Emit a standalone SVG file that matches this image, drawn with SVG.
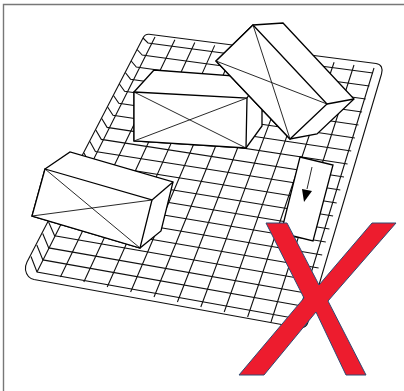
<svg xmlns="http://www.w3.org/2000/svg" width="404" height="391" viewBox="0 0 404 391">
<style>
.g{fill:none;stroke:#111;stroke-width:1.1}
.e{fill:#fff;stroke:#000;stroke-width:1.3;stroke-linejoin:miter}
.d{fill:none;stroke:#111;stroke-width:.9}
</style>
<rect width="404" height="391" fill="#fff"/>
<path d="M3.5 391V4.5H404" fill="none" stroke="#777" stroke-width="1.4"/>
<g id="plate">
<path class="g" d="M149 34.3L376 63.5Q384 65 381.5 74L308 322Q306 329 298 327.5L34 279.5Q27 278 25.500 270Q25 266 27 262L143 38Q145 34 149 34.3Z"/>
<path class="g" d="M143 38L148 43L373 73M137.100 49.500L142.200 55L369.400 86M131.200 61L136.300 67.100L365.700 99M125.300 72.500L130.500 79.200L362.100 112M119.400 84L124.600 91.200L358.500 125M113.500 95.500L118.800 103.300L354.900 138M107.600 107L113 115.300L351.200 151M101.700 118.500L107.100 127.400L347.600 164M95.800 130L101.300 139.400L344 177M89.900 141.500L95.400 151.500L340.300 190M84 153L89.600 163.500L336.700 203M78.100 164.500L83.800 175.600L333.100 216M72.200 176L77.900 187.600L329.400 229M66.300 187.500L72.100 199.700L325.800 242M60.400 199L66.200 211.700L322.200 255M54.500 210.500L60.400 223.800L318.600 268M48.600 222L54.600 235.800L314.900 281M42.700 233.500L48.700 247.900L311.300 294M36.800 245L42.900 259.900L307.600 307M31 256.500L37 272L304 320"/>
<path class="g" d="M155 37L37 272M174.900 39.800L60.400 277M194.800 42.600L83.800 282M214.700 45.400L107.200 287M234.600 48.200L130.600 292M254.500 51L154 297M274.400 53.800L177.400 302M294.300 56.600L200.800 307M314.200 59.400L224.200 312M334.100 62.200L247.600 317M354 65L271 322M374 68L294.500 327"/>
</g>
<g id="box-center">
<path class="e" d="M134 92L154 70L262 78V126L246 148L134 141Z"/>
<path class="e" d="M134 92L247 98L246 148L134 141Z"/>
<path class="e" d="M247 98L262 76"/>
<path class="d" d="M134 92L246 148M134 141L247 98"/>
</g>
<g id="box-right">
<path class="e" d="M253 25L283 23L354 99L317 134L290 139L216 61Z"/>
<path class="e" d="M253 25L327 104L290 139L216 61Z"/>
<path class="e" d="M327 104L354 99"/>
<path class="d" d="M253 25L290 139M216 61L327 104"/>
</g>
<g id="box-left">
<path class="e" d="M45 169L70 152L173 182L161 231L140 248L32 216Z"/>
<path class="e" d="M45 169L152 200L140 248L32 216Z"/>
<path class="e" d="M152 200L173 182"/>
<path class="d" d="M45 169L140 248M32 216L152 200"/>
</g>
<g id="card">
<path class="e" d="M300 157L333 165L313 241L281 233Z"/>
<path class="d" d="M312 167L307 189" stroke-width="1.100"/>
<path d="M302 189L312 191L304 202Z" fill="#000"/>
</g>
<g id="cross">
<path d="M266 223H287L319 285L372 223H396L328 301L366 375H346L316 312L264 375H239L304 298Z" fill="#ED1C2E" stroke="#2F4B73" stroke-width="1"/>
</g>
</svg>
